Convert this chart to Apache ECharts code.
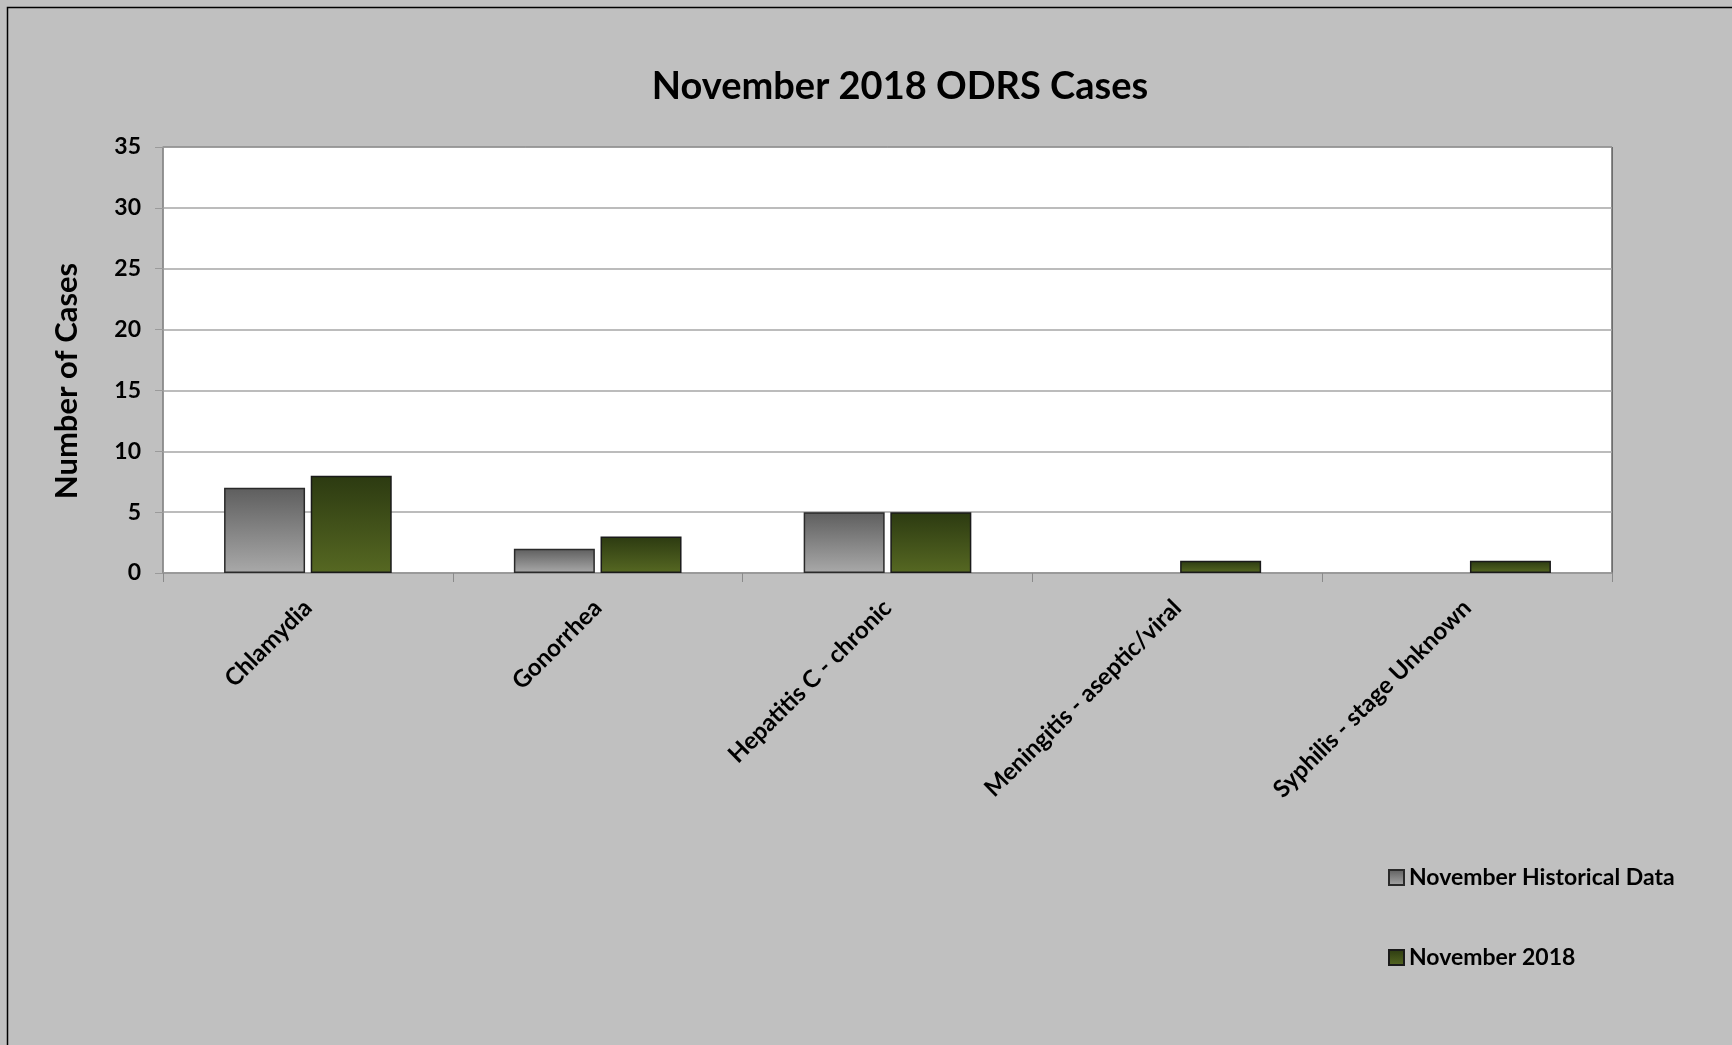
<!DOCTYPE html>
<html>
<head>
<meta charset="utf-8">
<script src="https://cdn.jsdelivr.net/npm/echarts@6/dist/echarts.min.js"></script>
<style>
html,body{margin:0;padding:0;background:#c0c0c0;}
#main{width:1732px;height:1045px;}
</style>
</head>
<body>
<div id="main"></div>
<script>
// data
var categories = ['Chlamydia', 'Gonorrhea', 'Hepatitis C - chronic', 'Meningitis - aseptic/viral', 'Syphilis - stage Unknown'];
var historical = [7, 2, 5, 0, 0];
var current = [8, 3, 5, 1, 1];
var seriesNames = ['November Historical Data', 'November 2018'];

var FONT = 'Lato, "Open Sans", sans-serif';

var myChart = echarts.init(document.getElementById('main'));

function grad(top, bottom) {
    return new echarts.graphic.LinearGradient(0, 0, 0, 1, [
        {offset: 0, color: top},
        {offset: 1, color: bottom}
    ]);
}

// zero bars: no outline (excel draws nothing there)
function barData(arr) {
    return arr.map(function (v) {
        return v === 0 ? {value: v, itemStyle: {borderWidth: 0}} : v;
    });
}

var option = {
    backgroundColor: '#c0c0c0',
    animation: false,
    title: {
        text: 'November 2018 ODRS Cases',
        left: 895,
        textAlign: 'center',
        top: 63,
        textStyle: {fontFamily: FONT, fontWeight: 'bold', fontSize: 38, color: '#000'}
    },
    graphic: [{
        type: 'rect',
        shape: {x: 7.5, y: 7.5, width: 1900, height: 1200},
        style: {fill: 'none', stroke: '#000', lineWidth: 1.5},
        silent: true
    }],
    legend: {
        orient: 'vertical',
        left: 1383,
        top: 861,
        itemGap: 57,
        itemWidth: 15,
        itemHeight: 15,
        icon: 'rect',
        data: seriesNames,
        textStyle: {fontFamily: FONT, fontWeight: 'bold', fontSize: 23, color: '#000'}
    },
    grid: {
        left: 163, top: 147, right: 120, bottom: 472,
        show: true,
        backgroundColor: '#fff',
        borderColor: '#1a1a1a',
        borderWidth: 1
    },
    xAxis: {
        type: 'category',
        data: categories,
        axisLine: {lineStyle: {color: '#9a9a9a', width: 1.5}},
        axisTick: {show: true, length: 9, lineStyle: {color: '#8a8a8a'}},
        axisLabel: {
            interval: 0,
            rotate: 45,
            margin: 31,
            fontFamily: FONT, fontWeight: 'bold', fontSize: 24, color: '#000'
        }
    },
    yAxis: {
        type: 'value',
        min: 0, max: 35, interval: 5,
        name: 'Number of Cases',
        nameLocation: 'middle',
        nameGap: 81,
        nameTextStyle: {fontFamily: FONT, fontWeight: 'bold', fontSize: 31, color: '#000', padding: [0, 42, 0, 0]},
        axisLine: {show: true, lineStyle: {color: '#9a9a9a', width: 1.5}},
        axisTick: {show: true, length: 8, lineStyle: {color: '#9a9a9a'}},
        axisLabel: {margin: 22, fontFamily: FONT, fontWeight: 'bold', fontSize: 23, color: '#000'},
        splitLine: {lineStyle: {color: '#a6a6a6', width: 1.5}}
    },
    series: [{
        name: seriesNames[0],
        type: 'bar',
        data: barData(historical),
        barWidth: 81,
        barGap: '7%',
        itemStyle: {color: grad('#5e5e5e', '#a9a9a9'), borderColor: '#2a2a2a', borderWidth: 1.5}
    }, {
        name: seriesNames[1],
        type: 'bar',
        data: barData(current),
        barWidth: 81,
        itemStyle: {color: grad('#2c3a11', '#566822'), borderColor: '#1a1a1a', borderWidth: 1.5}
    }]
};

myChart.setOption(option);
</script>
</body>
</html>
